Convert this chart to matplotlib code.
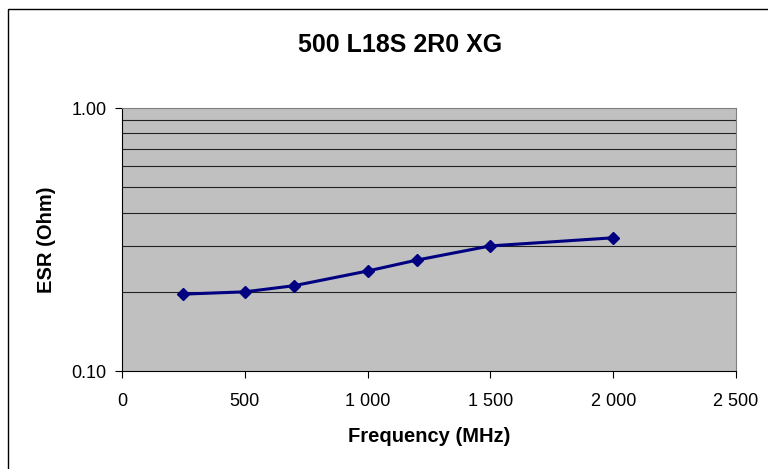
import numpy as np
import matplotlib.pyplot as plt
from matplotlib.ticker import FixedLocator, NullFormatter, FuncFormatter
from matplotlib.patches import Rectangle

plt.rcParams['font.family'] = ['Liberation Sans', 'DejaVu Sans']

freq = [250, 500, 700, 1000, 1200, 1500, 2000]
esr = [0.196, 0.200, 0.211, 0.240, 0.264, 0.299, 0.321]
x_ticks = [0, 500, 1000, 1500, 2000, 2500]
x_labels = ['0', '500', '1 000', '1 500', '2 000', '2 500']
y_ticks = [0.1, 1.0]
y_labels = ['0.10', '1.00']

fig = plt.figure(figsize=(7.68, 4.69), dpi=100)
ax = fig.add_axes([122 / 768, 1 - 371 / 469, 614 / 768, 263 / 469])

# outer chart border
fig.patches.append(Rectangle((8 / 768, -0.1), 1.2, 1 - 9 / 469 + 0.1,
                             transform=fig.transFigure, fill=False,
                             edgecolor='black', linewidth=1))

ax.set_facecolor('#c0c0c0')
ax.set_yscale('log')
ax.set_ylim(0.1, 1.0)
ax.set_xlim(0, 2500)

ax.yaxis.set_major_locator(FixedLocator(y_ticks))
ax.yaxis.set_major_formatter(FuncFormatter(lambda v, p: y_labels[y_ticks.index(v)] if v in y_ticks else ''))
ax.yaxis.set_minor_locator(FixedLocator([0.2, 0.3, 0.4, 0.5, 0.6, 0.7, 0.8, 0.9]))
ax.yaxis.set_minor_formatter(NullFormatter())
ax.grid(which='minor', axis='y', color='#222222', linewidth=0.8)
ax.tick_params(axis='y', which='minor', length=0)

ax.set_xticks(x_ticks)
ax.set_xticklabels(x_labels)
ax.tick_params(axis='both', which='major', labelsize=13, length=5, width=0.8, direction='out')
ax.tick_params(axis='x', which='major', pad=11)
ax.tick_params(axis='y', which='major', pad=6)

ax.plot(freq, esr, color='#000080', linewidth=2.2, marker='D', markersize=6, zorder=3)

for s in ['top', 'right']:
    ax.spines[s].set_color('#808080')
for s in ['left', 'bottom']:
    ax.spines[s].set_color('black')

# title is centred on the whole chart area, not the plot area
ax.set_title('500 L18S 2R0 XG', fontsize=18, fontweight='bold', pad=40,
             x=(400 - 122) / 614)
ax.set_xlabel('Frequency (MHz)', fontsize=14.5, fontweight='bold', labelpad=12)
ax.set_ylabel('ESR (Ohm)', fontsize=14.5, fontweight='bold', labelpad=11)

fig.savefig('out.png', dpi=100)
